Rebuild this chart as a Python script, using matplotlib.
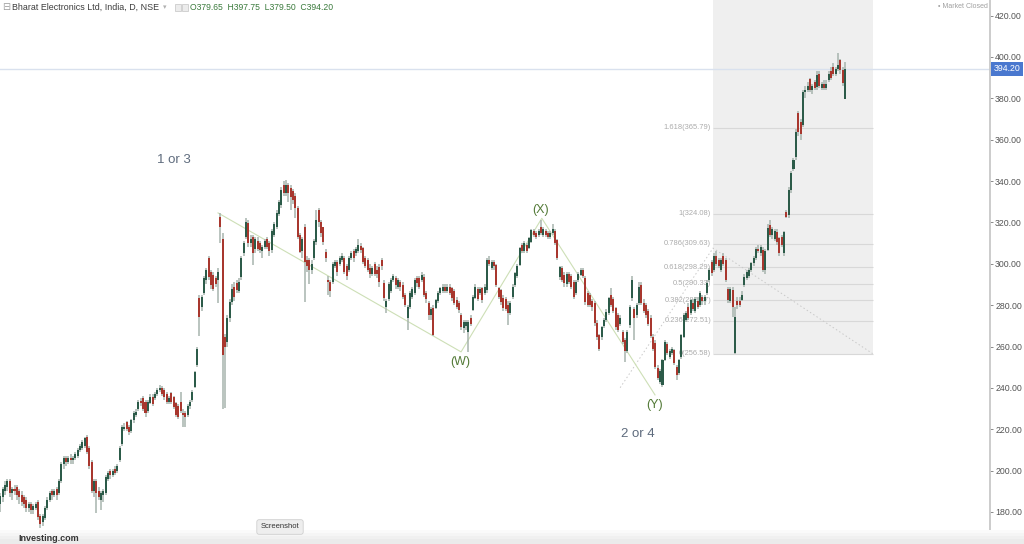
import numpy as np
import matplotlib.pyplot as plt
import matplotlib.transforms as mtrans
from matplotlib.patches import Rectangle

# daily OHLC, Bharat Electronics (NSE)
opens = [184, 187, 190, 192, 195, 189, 191, 192, 190, 188,
         187, 186, 182, 184, 181, 182, 185, 178, 175, 177,
         182, 186, 190, 188, 191, 189, 195, 203, 206, 204,
         206, 205, 206, 207, 210, 211, 212, 216, 211, 204,
         190, 195, 190, 186, 188, 189, 196, 200, 198, 201,
         199.7, 205, 213, 220, 223.5, 221, 219, 224.5, 227, 230,
         233.5, 235, 233, 229, 232.6, 235.6, 235, 237, 239, 240,
         239, 237, 233, 237.5, 235.6, 232.7, 231, 233, 228, 228,
         227, 231, 234, 240.5, 251,
         283.5, 279, 286, 292, 302.8,
         296, 294.6, 293, 292, 322.6, 312, 264.6, 262, 274, 281.5,
         289, 290.7, 287, 293.6, 305, 313, 319.7, 310, 313, 307,
         311, 310, 306, 308, 312, 310, 306.7, 314, 317.8, 324,
         328.4, 338, 334, 338, 336.7, 335, 333, 327, 314, 306,
         317.8, 302, 302, 297, 303, 310.5, 326, 320, 317.8, 305.7,
         292, 291, 291, 299, 301, 300, 302, 302.8, 299, 297,
         303, 306, 305, 306, 308.6, 307.6, 303, 302, 298, 295,
         300, 297, 298.5, 302, 290.7, 279, 283, 287, 292, 293,
         289, 291, 289.7, 285, 274, 279, 284, 286, 293, 293,
         292, 293.6, 286, 281, 275, 278.6, 278.6, 282, 286, 287,
         289, 287, 289, 288.5, 287, 282.5, 281, 275, 269, 270,
         267, 274, 277.7, 283.5, 288, 286, 288.3, 286, 287.3, 302,
         298, 301, 299.4, 288.3, 287.3, 283.5, 283, 280, 276, 284,
         289.7, 294, 299.4, 309, 306, 309, 307.6, 310.5, 316, 315,
         314, 317.8, 314, 316, 315, 313, 315, 316, 311.5, 293.6,
         298, 294.6, 290, 295, 294, 291, 286, 292, 294.6, 297,
         293, 286, 285, 282, 281, 271.6, 265.5, 264.6, 270, 272.8,
         276.2, 285, 283, 278.6, 275, 271, 267, 263, 258, 270.4,
         283.5, 278, 275, 281, 289.7, 281, 280, 277, 274, 264.6,
         261.7, 249.6, 243, 241.5, 253.5, 261, 255, 257, 258.3, 250,
         247, 255, 264.6, 273, 279, 276, 281, 277, 282, 280,
         284, 282, 286, 292, 301, 297, 304, 302, 297, 304,
         302, 288, 282, 287.3, 256.9, 282, 282, 282.5, 289.7, 293,
         294, 297, 300.4, 303, 307, 305, 306.7, 297, 306.7, 318.8,
         314, 312, 315.4, 312.5, 313, 305, 325, 323.6, 335.7, 346,
         351.6, 373, 368.6, 367, 383, 384, 389.4, 384, 388, 385.5,
         392, 385, 387, 385, 389, 393, 395, 392, 394, 398.5,
         393.7, 379.65]

highs = [189, 192, 195, 196, 196, 192, 193, 193, 191, 190,
         188, 187, 185, 185, 184, 185, 186, 179, 179, 183,
         187, 190, 191, 191, 192, 196, 204, 207, 207, 207,
         208, 207, 209, 211, 213, 215, 216, 217, 212, 205,
         196, 196, 192, 190, 191, 198, 200, 201, 201, 202,
         203, 212, 222, 223, 224, 222, 225, 229, 230, 234,
         235, 236, 234, 234, 237, 237, 238, 240, 241.5, 241,
         240, 238, 236, 238, 236, 233, 232, 238, 230, 229,
         232, 234, 239, 248, 260,
         285, 285, 294, 298, 304,
         297, 296, 294, 298, 324.6, 315, 266, 275, 283, 290,
         291, 292, 293, 304, 311, 322, 321, 314, 314, 313,
         313, 311, 309, 312, 313, 311, 317, 320, 326, 331,
         337, 340, 340.5, 339, 338, 336, 334, 328, 315, 313,
         319, 304, 303, 302, 312, 326, 327, 321, 318, 307,
         294, 292, 301, 302, 302, 304, 305, 304, 300, 304,
         306, 307, 308, 312, 310, 308, 304, 303, 300, 299,
         301, 299, 300, 303, 292, 283, 291, 293, 295, 294,
         293, 292, 291, 286, 280, 287, 289, 293, 294, 294,
         296, 295, 287, 282, 279, 280, 283, 287, 289, 290,
         290, 290, 290, 289, 288, 284, 282, 276, 273, 273,
         273, 275, 285, 290, 289, 289, 289, 290, 303, 304,
         302, 302, 300, 289, 288, 285, 284, 282, 282, 290,
         296, 300, 308, 310, 311, 310, 313, 317, 317, 316,
         317, 321, 318, 317, 316, 316, 319, 317, 312, 299,
         299, 296, 296, 296, 295, 292, 292, 296, 298, 298,
         294, 287, 286, 283, 282, 273, 266, 270, 274, 278,
         284, 288.3, 284, 279, 276, 275, 268, 264, 268, 280,
         294, 279, 281, 291, 291, 283, 281, 278, 275, 266,
         263, 251, 249, 254, 263, 262, 259, 260, 259, 251,
         254, 266, 276, 277, 281, 283, 283, 284, 284, 287,
         285, 285, 292, 298, 302, 305, 306, 303, 303, 305,
         303, 289, 289, 289, 279, 284, 284, 287, 295, 297,
         298, 301, 304, 308, 309, 309, 308, 307, 319, 321,
         318, 317, 317, 313, 314, 316, 326, 337, 345, 351,
         365, 374, 370, 384, 386, 388, 390, 387, 389, 393,
         393, 388, 389, 389, 393, 395, 397, 395, 402, 399,
         395, 397.75]

lows = [180, 185, 188, 190, 187, 186, 188, 186, 184, 183,
        182, 180, 180, 179, 179, 181, 176, 172, 173, 176,
        181, 185, 186, 187, 186, 188, 194, 201, 202, 203,
        203, 203, 205, 206, 209, 210, 211, 208, 201, 189,
        187, 179.5, 186, 181, 185, 188, 195, 196, 197, 198,
        199, 204, 212, 219, 219, 217, 218, 223, 226, 229,
        231, 229, 226, 228, 232, 231, 234, 236, 238, 236,
        234, 232, 232, 232, 230, 226, 225, 228, 221, 221,
        226, 230, 233, 240, 250,
        265, 277, 285, 290, 292,
        288, 287, 289, 281, 310, 230, 230.3, 260, 272, 280,
        282, 286, 286, 292, 304, 312, 308, 308, 299.5, 305,
        306, 305, 303, 307, 307, 304, 305, 313, 317, 323,
        327, 333, 333, 330, 326, 329, 322, 312, 305, 303,
        281.5, 296, 290, 295, 302, 309, 318, 313, 309, 301,
        285, 284, 290, 298, 294, 299, 301, 295, 292, 296,
        302, 301, 304, 305, 305, 300, 298, 296, 293, 294,
        294, 293, 289, 297, 282, 276, 282, 286, 291, 288,
        288, 287, 283, 279, 268, 278, 283, 285, 289, 288,
        291, 284, 281, 273, 273, 265, 278, 281, 285, 286,
        286, 286, 285, 282, 280, 278, 276, 268, 266.5, 268,
        257.4, 270, 277, 283, 282, 285, 281, 285, 286, 299,
        297, 297, 289, 283, 280, 277, 277, 270.4, 275, 283,
        289, 293, 299, 305, 305, 305, 307, 310, 313, 312,
        313, 314, 313, 313, 312, 312, 314, 309, 302, 292,
        291, 289, 289, 290, 288, 283, 285, 291, 294, 293,
        280, 279, 279, 277, 270, 263, 258, 263, 269, 272,
        275, 279, 276, 268, 267, 270, 261, 252.5, 257, 269,
        282, 263, 274, 280, 280, 276, 274, 270, 264, 258,
        249, 244, 242, 240.4, 253, 256, 254, 256, 251, 243.8,
        246, 254, 264, 272, 273, 275, 277, 276, 278, 279,
        280, 280, 285, 291, 294, 296, 299, 298, 296, 299,
        291, 281, 281, 274.3, 256.58, 278, 279, 282, 289, 292,
        293, 296, 299, 302, 305, 304, 296, 295, 306, 313,
        312, 311, 309, 304, 308, 304, 322, 322, 334, 345,
        350, 362, 360, 366, 380, 383, 383, 382, 384, 384,
        385, 384, 384, 384, 388, 389, 391, 391, 393, 392,
        386, 379.5]

closes = [187.5, 191, 193, 195, 189, 191, 190, 188, 187, 185,
          184, 182, 184, 181, 183, 184, 177.6, 174, 178, 182,
          186, 189, 188, 190, 188, 195, 203, 206, 204, 206,
          205, 206, 208, 210, 212, 214, 215.7, 209, 202, 190,
          195, 189, 187, 189, 190, 197, 199, 198, 200, 199,
          202, 211, 221, 221, 220, 218.7, 224.5, 228, 228.5, 233,
          232.5, 230, 228, 233, 235.6, 232, 237, 239, 240, 237,
          235.6, 233, 235, 233, 230.7, 227, 226, 229, 227, 226,
          231, 233, 238, 247.7, 259,
          274.3, 284, 293, 297, 293.6,
          289.7, 288, 290, 296, 317.8, 256, 259.8, 274, 281.5, 288,
          284, 287.3, 291, 302.8, 310, 320, 310, 312, 305, 312,
          307, 306.7, 308, 311, 308, 306, 315.7, 319, 324.6, 330,
          335.7, 334, 338, 334, 332.3, 331, 327, 313, 305.7, 312,
          301, 299, 297, 300, 310.9, 321, 320, 315, 310.5, 302.8,
          291, 287, 300, 301, 296, 303, 304, 296, 294, 303,
          305, 303, 307, 309, 306.7, 301, 299, 297, 295, 298,
          295, 295, 291, 299, 283.5, 282, 290, 292, 294, 289.7,
          292, 289, 284, 280, 279, 286, 288, 292, 290.7, 289,
          294.6, 285, 283, 275, 278, 265.6, 282.5, 286, 288.3, 289,
          287, 289, 286, 283.5, 281, 279, 277.7, 269.4, 272, 272,
          272, 271, 284, 288.8, 283, 288, 282.5, 289, 301.8, 300,
          301, 299, 289.7, 284, 281.5, 278.6, 278, 276, 281, 289,
          295.5, 299, 307.6, 306, 310, 306, 312.6, 316.3, 314, 313,
          316, 315, 317, 314, 313, 315, 317, 310, 302.8, 298.5,
          292, 290.7, 295, 291, 289, 284, 291, 295, 297, 294,
          281.5, 280, 280, 279, 271.6, 264.6, 259, 269.4, 273, 276.7,
          283.5, 280, 277, 269.5, 268, 274, 262, 258, 267, 279,
          292, 274, 280, 288.8, 281, 277, 275, 271, 265, 259,
          250, 244.8, 248, 253.5, 262, 257, 258, 259, 252, 246.3,
          253.5, 265.6, 275, 276, 274, 282.5, 278, 283, 279, 286,
          282, 284, 290.7, 297, 295.5, 304, 300, 299, 302, 300,
          292, 282.5, 288, 279, 274.3, 280, 280, 285, 293.6, 296,
          297, 300.4, 303, 307, 306, 308, 297, 306, 317.3, 314,
          317, 316, 310.5, 305, 309, 315.4, 322.6, 335.7, 344, 350,
          363.7, 363.7, 363, 383, 384, 386, 384, 386, 385, 391.3,
          386, 387, 385, 387, 392, 390, 392, 394, 396, 393.7,
          387.4, 394.2]

price_ticks = [180, 200, 220, 240, 260, 280, 300, 320, 340, 360, 380, 400, 420]
last_price = 394.20
header_name = 'Bharat Electronics Ltd, India, D, NSE'
header_ohlc = 'O379.65  H397.75  L379.50  C394.20'

# fibonacci extension tool (bar index / price of its anchors)
fib_ratios = ['1.618', '1', '0.786', '0.618', '0.5', '0.382', '0.236', '0']
fib_levels = [365.79, 324.08, 309.63, 298.29, 290.33, 282.37, 272.51, 256.58]
fib_box = [304.6, 372.8]
fib_anchor_x = [264.9, 304.6, 372.8]
fib_anchor_y = [240.08, 307.58, 256.58]

# elliott wave count
wave_x = [93.0, 196.9, 231.4, 279.8]
wave_y = [324.6, 257.4, 322.0, 236.6]
wave_names = ['(W)', '(X)', '(Y)']
wave_name_x = [196.5, 231.0, 279.4]
wave_name_y = [252.5, 326.0, 231.7]
degree_names = ['1 or 3', '2 or 4']
degree_x = [74.2, 272.6]
degree_y = [350.2, 217.7]

assert len(opens) == len(highs) == len(lows) == len(closes), \
    (len(opens), len(highs), len(lows), len(closes))

plt.rcParams['font.family'] = ['Liberation Sans', 'DejaVu Sans']

W, H = 1024, 544
fig = plt.figure(figsize=(W / 100, H / 100), dpi=100)
ax = fig.add_axes([0, 0, 990 / W, 1])
ax.set_xlim(-0.2, 423.0)
ax.set_ylim(164.5, 427.56)

o = np.array(opens)
h = np.array(highs)
l = np.array(lows)
c = np.array(closes)
x = np.arange(len(c))
up = c >= o
body_col = np.where(up, '#2c5b49', '#a8372e')

# fib box
ax.fill_between(fib_box, fib_levels[-1], 440, color='#efefef', lw=0, zorder=0)
ax.hlines(fib_levels, fib_box[0], fib_box[1], color='#d8d8d8', lw=0.8, zorder=0.5)
for r, lv in zip(fib_ratios, fib_levels):
    ax.text(fib_box[0] - 0.8, lv, '%s(%.2f)' % (r, lv), ha='right', va='center',
            fontsize=5.4, color='#ababab', zorder=0.6)
ax.plot(fib_anchor_x, fib_anchor_y, color='#c9c9c9', lw=0.7, ls=(0, (1.5, 2.5)), zorder=0.7)

# last price line
ax.axhline(last_price, color='#d9e1ee', lw=1.0, zorder=0.4)

# wave lines
ax.plot(wave_x, wave_y, color='#cddfb6', lw=0.8, zorder=1)

# candles
ax.vlines(x, l, h, color='#a7b4ad', lw=1.1, zorder=3)
ax.bar(x, np.maximum(np.abs(c - o), 0.6), bottom=np.minimum(o, c), width=0.86,
       color=body_col, lw=0, zorder=4)

for name, wx, wy in zip(wave_names, wave_name_x, wave_name_y):
    ax.text(wx, wy, name, ha='center', va='center', fontsize=9, color='#537a37', zorder=5)
for name, dx, dy in zip(degree_names, degree_x, degree_y):
    ax.text(dx, dy, name, ha='center', va='center', fontsize=9.5, color='#5e6b7d', zorder=5)

# axis styling
for s in ['top', 'left', 'bottom']:
    ax.spines[s].set_visible(False)
ax.spines['right'].set_color('#c8c8c8')
ax.spines['right'].set_linewidth(1.3)
ax.set_xticks([])
ax.yaxis.tick_right()
ax.set_yticks(price_ticks)
ax.set_yticklabels(['%.2f' % t for t in price_ticks])
ax.tick_params(axis='y', length=2.5, width=0.7, colors='#8a8a8a', labelcolor='#555555',
               labelsize=6.3, pad=1.2)

tr = mtrans.blended_transform_factory(ax.transAxes, ax.transData)
ax.text(1.0 + 4 / 990, last_price, '%.2f' % last_price, transform=tr, ha='left', va='center',
        fontsize=6.3, color='white', clip_on=False,
        bbox=dict(boxstyle='square,pad=0.3', fc='#4a78cf', ec='none'))

# header
fig.text(2 / W, 1 - 7 / H, '\u229f', fontsize=7, color='#a0a0a0', va='center',
         family='DejaVu Sans')
fig.text(12 / W, 1 - 7 / H, header_name, fontsize=6.4, color='#3c3c3c', va='center')
fig.text(163 / W, 1 - 7 / H, '\u25be', fontsize=5, color='#b0b0b0', va='center',
         family='DejaVu Sans')
for px in [175, 182]:
    fig.patches.append(Rectangle((px / W, 1 - 11 / H), 6 / W, 7 / H, transform=fig.transFigure,
                                 fc='#ececec', ec='#c4c4c4', lw=0.5))
fig.text(190 / W, 1 - 7 / H, header_ohlc, fontsize=6.2, color='#3a7a3c', va='center')
fig.text(988 / W, 1 - 7 / H, '\u2022 Market Closed', fontsize=5, color='#a0a0a0',
         va='center', ha='right')

# bottom bar
for i, g in enumerate(['#fafafa', '#f5f5f5', '#f0f0f0', '#ebebeb']):
    fig.patches.append(Rectangle((0, 0), 1, (14 - i * 3) / H, transform=fig.transFigure,
                                 fc=g, ec='none', zorder=6))
fig.text(280 / W, 1 - 527 / H, 'Screenshot', fontsize=5.5, color='#333333', ha='center',
         va='center', zorder=8,
         bbox=dict(boxstyle='round,pad=0.5,rounding_size=0.3', fc='#eeeeee', ec='#cfcfcf', lw=0.6))
fig.text(18 / W, 1 / H, 'Investing.com', fontsize=6.5, weight='bold', color='#333333',
         va='bottom', zorder=8)

fig.savefig('out.png', dpi=100)
